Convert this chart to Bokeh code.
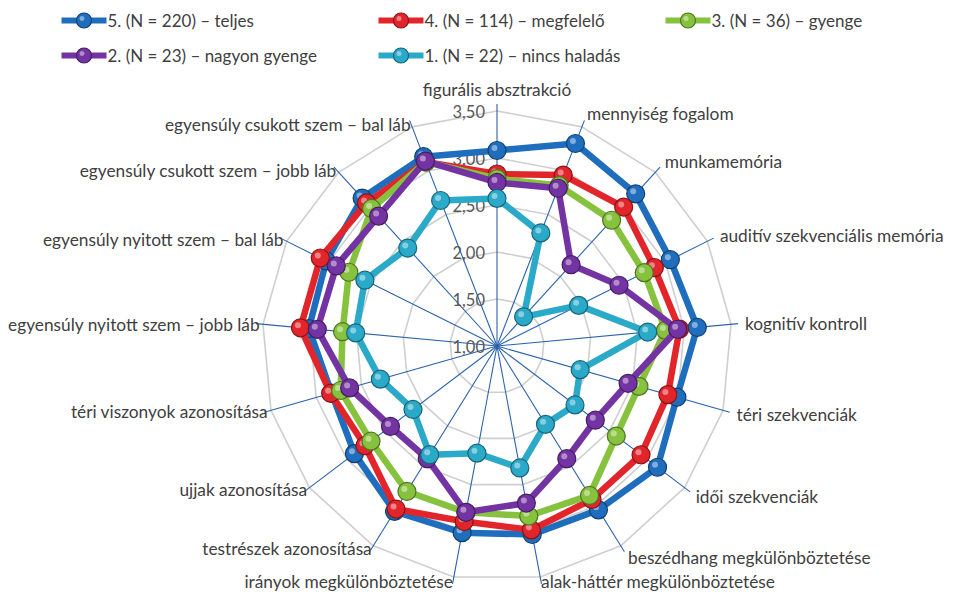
import numpy as np
from bokeh.plotting import figure
from bokeh.models import Range1d
from bokeh.core.properties import value
from bokeh.embed import file_html
from bokeh.resources import INLINE

# ---------------- data ----------------
categories = [
    "figurális absztrakció", "mennyiség fogalom", "munkamemória",
    "auditív szekvenciális memória", "kognitív kontroll", "téri szekvenciák",
    "idői szekvenciák", "beszédhang megkülönböztetése",
    "alak-háttér megkülönböztetése", "irányok megkülönböztetése",
    "testrészek azonosítása", "ujjak azonosítása", "téri viszonyok azonosítása",
    "egyensúly nyitott szem – jobb láb", "egyensúly nyitott szem – bal láb",
    "egyensúly csukott szem – jobb láb", "egyensúly csukott szem – bal láb",
]
tick_values = [1.0, 1.5, 2.0, 2.5, 3.0, 3.5]
tick_labels = ["1,00", "1,50", "2,00", "2,50", "3,00", "3,50"]

series_names = [
    "5. (N = 220) – teljes",
    "4. (N = 114) – megfelelő",
    "3. (N = 36) – gyenge",
    "2. (N = 23) – nagyon gyenge",
    "1. (N = 22) – nincs haladás",
]
s5_teljes = [3.08, 3.31, 3.19, 3.06, 3.14, 2.99, 3.14, 3.05, 3.04, 3.02, 3.07, 2.90, 2.83, 3.01, 3.03, 3.13, 3.16]
s4_megfelelo = [2.83, 2.95, 3.00, 2.87, 2.95, 2.89, 2.92, 2.92, 2.99, 2.90, 3.04, 2.76, 2.84, 3.10, 3.10, 3.06, 3.10]
s3_gyenge = [2.78, 2.83, 2.81, 2.75, 2.80, 2.57, 2.59, 2.87, 2.84, 2.80, 2.82, 2.68, 2.73, 2.65, 2.76, 2.98, 3.10]
s2_nagyon_gyenge = [2.74, 2.80, 2.17, 2.45, 2.93, 2.45, 2.31, 2.41, 2.70, 2.80, 2.41, 2.42, 2.63, 2.92, 2.91, 2.87, 3.11]
s1_nincs = [2.57, 2.29, 1.42, 1.97, 2.61, 1.92, 2.04, 1.98, 2.32, 2.16, 2.36, 2.12, 2.29, 2.51, 2.57, 2.41, 2.66]
series_values = [s5_teljes, s4_megfelelo, s3_gyenge, s2_nagyon_gyenge, s1_nincs]
series_colors = ["#1f6dbd", "#e2252b", "#86c23d", "#7433a3", "#2aa9c9"]

# ---------------- layout constants (pixels) ----------------
W, H = 958, 595
CX, CY = 496.5, 345.5             # centre inside figure
S = 94.0                          # pixels per value unit
BASE = 1.0
FONT = value("Lato")
TXT = "#404040"

p = figure(width=W, height=H, output_backend="svg", toolbar_location=None,
           x_axis_type=None, y_axis_type=None, min_border=0,
           x_range=Range1d(-CX / S, (W - CX) / S),
           y_range=Range1d(-(H - CY) / S, CY / S))
p.outline_line_color = None
p.background_fill_color = "white"
p.border_fill_color = "white"

n = len(categories)
theta = np.arange(n) * 2 * np.pi / n
sx, sy = np.sin(theta), np.cos(theta)

def px(d):
    return d / S

# grid rings
for v in tick_values[1:]:
    r = v - BASE
    xs = list(r * sx) + [r * sx[0]]
    ys = list(r * sy) + [r * sy[0]]
    p.line(xs, ys, line_color="#cfcfcf", line_width=1.6)

# spokes
rmax = tick_values[-1] - BASE + px(7)
p.segment(x0=np.zeros(n), y0=np.zeros(n), x1=rmax * sx, y1=rmax * sy,
          line_color="#2a62ad", line_width=1.1)

# tick labels
p.text(x=[px(-12)] * len(tick_values), y=[v - BASE for v in tick_values],
       text=tick_labels, text_align="right", text_baseline="middle",
       text_font=FONT, text_font_size="16.5px", text_color="#595959")

# category labels
outer = tick_values[-1] - BASE
lab_x, lab_y, lab_align = [], [], []
for k in range(n):
    if sy[k] > 0.99:
        r = outer + px(22)
    elif sy[k] < -0.9:
        r = outer + px(5)
    elif sx[k] > 0:
        r = outer + px(14)
    else:
        r = outer + px(3)
    lab_x.append(r * sx[k])
    lab_y.append(r * sy[k])
    if abs(sx[k]) < 0.05:
        lab_align.append("center")
    elif sx[k] > 0:
        lab_align.append("left")
    else:
        lab_align.append("right")
p.text(x=lab_x, y=lab_y, text=categories, text_align=lab_align,
       text_baseline="middle", text_font=FONT, text_font_size="17.3px",
       text_color=TXT)

def darker(hexc, f=0.6):
    h = hexc.lstrip("#")
    r, g, b = (int(h[i:i + 2], 16) for i in (0, 2, 4))
    return "#%02x%02x%02x" % (int(r * f), int(g * f), int(b * f))

def lighter(hexc, f=0.55):
    h = hexc.lstrip("#")
    r, g, b = (int(h[i:i + 2], 16) for i in (0, 2, 4))
    return "#%02x%02x%02x" % (int(r + (255 - r) * f), int(g + (255 - g) * f), int(b + (255 - b) * f))

# series
for vals, col in zip(series_values, series_colors):
    r = np.array(vals) - BASE
    xs, ys = r * sx, r * sy
    p.line(list(xs) + [xs[0]], list(ys) + [ys[0]], line_color=col, line_width=6.5,
           line_join="round")
    p.scatter(xs, ys, size=18, fill_color=col, line_color=darker(col), line_width=1.2)
    p.scatter(xs - px(2.5), ys + px(2.5), size=6, fill_color=lighter(col), line_color=None,
              fill_alpha=0.8)

# legend
leg_cols = [61, 378, 665]
leg_rows = [20, 55]
icon_w = 45
for i, (name, col) in enumerate(zip(series_names, series_colors)):
    row, c = divmod(i, 3)
    x0 = px(leg_cols[c] - CX)
    x1 = px(leg_cols[c] + icon_w - CX)
    yy = px(CY - leg_rows[row])
    p.line([x0, x1], [yy, yy], line_color=col, line_width=6)
    xm = (x0 + x1) / 2
    p.scatter([xm], [yy], size=15, fill_color=col, line_color=darker(col), line_width=1.2)
    p.scatter([xm - px(2)], [yy + px(2)], size=5, fill_color=lighter(col), line_color=None,
              fill_alpha=0.8)
    p.text(x=[x1 + px(1)], y=[yy], text=[name], text_align="left", text_baseline="middle",
           text_font=FONT, text_font_size="17px", text_color=TXT)

open("out.html", "w").write(file_html(p, INLINE))
